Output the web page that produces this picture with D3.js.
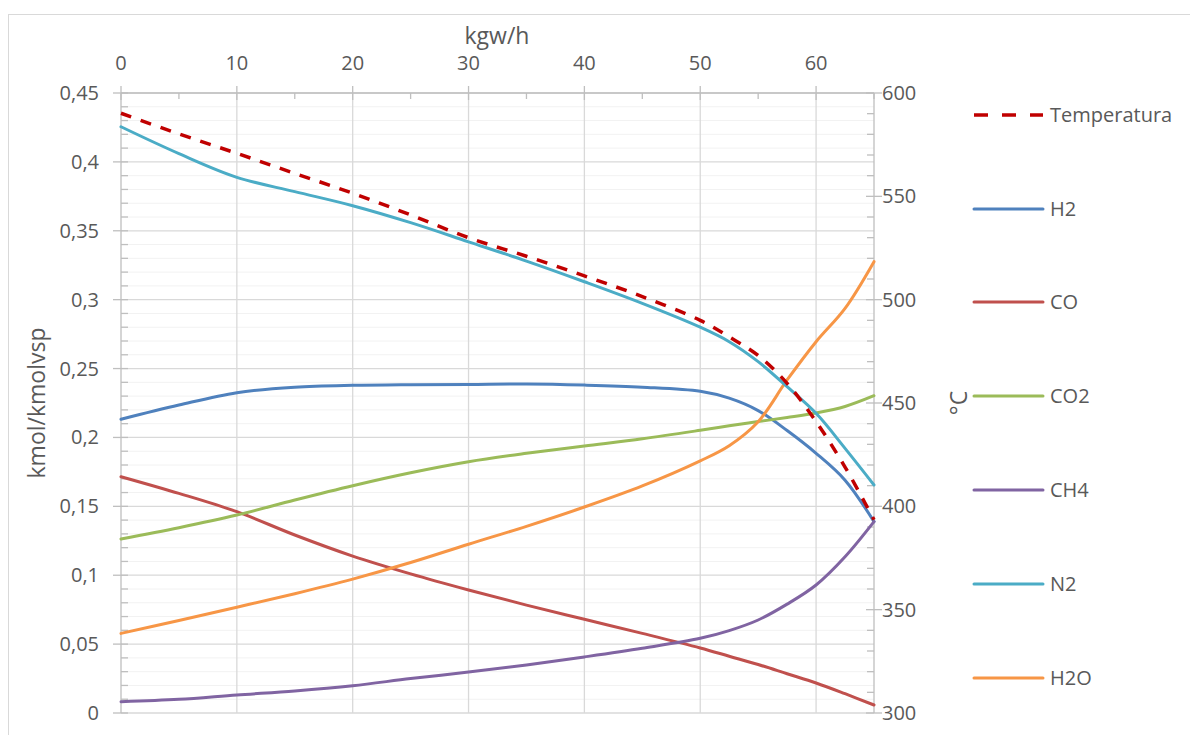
<!DOCTYPE html>
<html>
<head>
<meta charset="utf-8">
<script src="https://cdn.jsdelivr.net/npm/d3@7"></script>
<style>
  html, body { margin: 0; padding: 0; background: #fff; }
  svg { display: block; font-family: "Open Sans", Lato, sans-serif; }
</style>
</head>
<body>
<svg id="chart" width="1190" height="735"></svg>
<script>
// ---- data ----
const xs = [0, 5, 10, 15, 20, 25, 30, 35, 40, 45, 50, 52.5, 55, 57.5, 60, 62.5, 65];
const temperatura = [590.2, 580.2, 570.8, 561.1, 551.5, 541, 530, 521, 511.5, 501.5, 490, 482, 473, 459.5, 441, 419, 393.5];
const h2  = [0.2132, 0.2235, 0.2325, 0.2364, 0.2378, 0.2383, 0.2385, 0.2388, 0.2380, 0.2365, 0.2335, 0.2285, 0.2195, 0.2050, 0.1885, 0.1690, 0.1389];
const co  = [0.1715, 0.1594, 0.1461, 0.1292, 0.1139, 0.1010, 0.0893, 0.0783, 0.0680, 0.0578, 0.0472, 0.0412, 0.0352, 0.0285, 0.0218, 0.0140, 0.0058];
const co2 = [0.1263, 0.1345, 0.1437, 0.1546, 0.1650, 0.1744, 0.1824, 0.1885, 0.1938, 0.1990, 0.2052, 0.2085, 0.2115, 0.2145, 0.2178, 0.2225, 0.2303];
const ch4 = [0.0082, 0.0099, 0.0131, 0.0160, 0.0198, 0.0250, 0.0297, 0.0348, 0.0407, 0.0470, 0.0542, 0.0598, 0.0675, 0.0790, 0.0929, 0.1134, 0.1389];
const n2  = [0.4255, 0.4060, 0.3888, 0.3784, 0.3682, 0.3559, 0.3420, 0.3280, 0.3130, 0.2973, 0.2800, 0.2695, 0.2550, 0.2368, 0.2175, 0.1921, 0.1655];
const h2o = [0.0578, 0.0672, 0.0768, 0.0866, 0.0972, 0.1092, 0.1225, 0.1355, 0.1495, 0.1648, 0.1830, 0.1940, 0.2114, 0.2417, 0.2695, 0.2937, 0.3276];

const xTicks = [0, 10, 20, 30, 40, 50, 60];
const yLeftTicks = [0, 0.05, 0.1, 0.15, 0.2, 0.25, 0.3, 0.35, 0.4, 0.45];
const yLeftLabels = ["0", "0,05", "0,1", "0,15", "0,2", "0,25", "0,3", "0,35", "0,4", "0,45"];
const yRightTicks = [300, 350, 400, 450, 500, 550, 600];

const seriesNames = ["H2", "CO", "CO2", "CH4", "N2", "H2O"];
const seriesValues = [h2, co, co2, ch4, n2, h2o];
const seriesColors = ["#4F81BD", "#C0504D", "#9BBB59", "#8064A2", "#4BACC6", "#F79646"];

// ---- layout ----
const svg = d3.select("#chart");
const L = 121, T = 93, R = 874, B = 713;
const x = d3.scaleLinear().domain([0, 65]).range([L, R]);
const yL = d3.scaleLinear().domain([0, 0.45]).range([B, T]);
const yR = d3.scaleLinear().domain([300, 600]).range([B, T]);
const txt = "#595959", axisCol = "#BFBFBF", major = "#D9D9D9", minor = "#F2F2F2";

// chart frame
svg.append("rect").attr("x", 8.5).attr("y", 14.5).attr("width", 1200).attr("height", 800)
  .attr("fill", "none").attr("stroke", "#D9D9D9").attr("stroke-width", 1);

// minor horizontal grid
const minorY = d3.range(0, 46).map(i => i * 0.01).filter(v => Math.round(v * 100) % 5 !== 0);
svg.append("g").selectAll("line").data(minorY).join("line")
  .attr("x1", L).attr("x2", R).attr("y1", d => yL(d)).attr("y2", d => yL(d))
  .attr("stroke", minor).attr("stroke-width", 1);
// major horizontal grid
svg.append("g").selectAll("line").data(yLeftTicks.slice(1)).join("line")
  .attr("x1", L).attr("x2", R).attr("y1", d => yL(d)).attr("y2", d => yL(d))
  .attr("stroke", major).attr("stroke-width", 1.3);
// vertical grid
svg.append("g").selectAll("line").data(xTicks.slice(1)).join("line")
  .attr("x1", d => x(d)).attr("x2", d => x(d)).attr("y1", T).attr("y2", B)
  .attr("stroke", major).attr("stroke-width", 1.3);

// axis lines
const ax = svg.append("g").attr("stroke", axisCol).attr("stroke-width", 1.3);
ax.append("line").attr("x1", L).attr("x2", R).attr("y1", T).attr("y2", T);
ax.append("line").attr("x1", L).attr("x2", R).attr("y1", B).attr("y2", B).attr("stroke", major);
ax.append("line").attr("x1", L).attr("x2", L).attr("y1", T).attr("y2", B);
ax.append("line").attr("x1", R).attr("x2", R).attr("y1", T).attr("y2", B);

// top ticks
ax.selectAll(".tx").data(xTicks).join("line")
  .attr("x1", d => x(d)).attr("x2", d => x(d)).attr("y1", T - 7).attr("y2", T + 7);
ax.selectAll(".txm").data(d3.range(5, 66, 10)).join("line")
  .attr("x1", d => x(d)).attr("x2", d => x(d)).attr("y1", T).attr("y2", T + 6);
// left ticks
ax.selectAll(".ty").data(yLeftTicks).join("line")
  .attr("x1", L - 8).attr("x2", L + 7).attr("y1", d => yL(d)).attr("y2", d => yL(d));
ax.selectAll(".tym").data(minorY).join("line")
  .attr("x1", L).attr("x2", L + 7).attr("y1", d => yL(d)).attr("y2", d => yL(d));
// right ticks
ax.selectAll(".tr").data(yRightTicks).join("line")
  .attr("x1", R - 8).attr("x2", R + 8).attr("y1", d => yR(d)).attr("y2", d => yR(d));
ax.selectAll(".trm").data(d3.range(300, 601, 10).filter(v => v % 50 !== 0)).join("line")
  .attr("x1", R - 7).attr("x2", R).attr("y1", d => yR(d)).attr("y2", d => yR(d));

// tick labels
const lab = svg.append("g").attr("fill", txt).attr("font-size", 20);
lab.selectAll(".lx").data(xTicks).join("text")
  .attr("x", d => x(d)).attr("y", 70).attr("text-anchor", "middle").text(d => d);
lab.selectAll(".ly").data(yLeftTicks).join("text")
  .attr("x", 99).attr("y", d => yL(d) + 7).attr("text-anchor", "end")
  .text((d, i) => yLeftLabels[i]);
lab.selectAll(".lr").data(yRightTicks).join("text")
  .attr("x", 882).attr("y", d => yR(d) + 7).attr("text-anchor", "start").text(d => d);

// axis titles
const ttl = svg.append("g").attr("fill", txt).attr("font-size", 23);
ttl.append("text").attr("x", 497).attr("y", 44).attr("text-anchor", "middle").text("kgw/h");
ttl.append("text").attr("transform", "translate(45,403) rotate(-90)")
  .attr("text-anchor", "middle").text("kmol/kmolvsp");
ttl.append("text").attr("transform", "translate(967,403) rotate(-90)")
  .attr("text-anchor", "middle").text("°C");

// lines
const curve = d3.curveCatmullRom.alpha(0.5);
const lineL = d3.line().x((d, i) => x(xs[i])).y(d => yL(d)).curve(curve);
const lineR = d3.line().x((d, i) => x(xs[i])).y(d => yR(d)).curve(curve);

const plot = svg.append("g").attr("fill", "none").attr("stroke-linecap", "round").attr("stroke-linejoin", "round");
const drawOrder = [0, 1, 2, 3, 5, 4];
drawOrder.forEach(k => {
  plot.append("path").attr("d", lineL(seriesValues[k]))
    .attr("stroke", seriesColors[k]).attr("stroke-width", 3);
});
plot.append("path").attr("d", lineR(temperatura))
  .attr("stroke", "#C00000").attr("stroke-width", 3.5)
  .attr("stroke-dasharray", "11,10").attr("stroke-linecap", "butt");

// legend
const legNames = ["Temperatura"].concat(seriesNames);
const legColors = ["#C00000"].concat(seriesColors);
const legY = [115, 209, 302, 396, 490, 584, 678];
const leg = svg.append("g");
legNames.forEach((n, i) => {
  leg.append("line").attr("x1", 974).attr("x2", 1043).attr("y1", legY[i]).attr("y2", legY[i])
    .attr("stroke", legColors[i]).attr("stroke-width", i === 0 ? 3.5 : 3)
    .attr("stroke-linecap", i === 0 ? "butt" : "round")
    .attr("stroke-dasharray", i === 0 ? "14,14" : null);
  leg.append("text").attr("x", 1050).attr("y", legY[i] + 7).attr("fill", txt)
    .attr("font-size", 20).text(n);
});
</script>
</body>
</html>
